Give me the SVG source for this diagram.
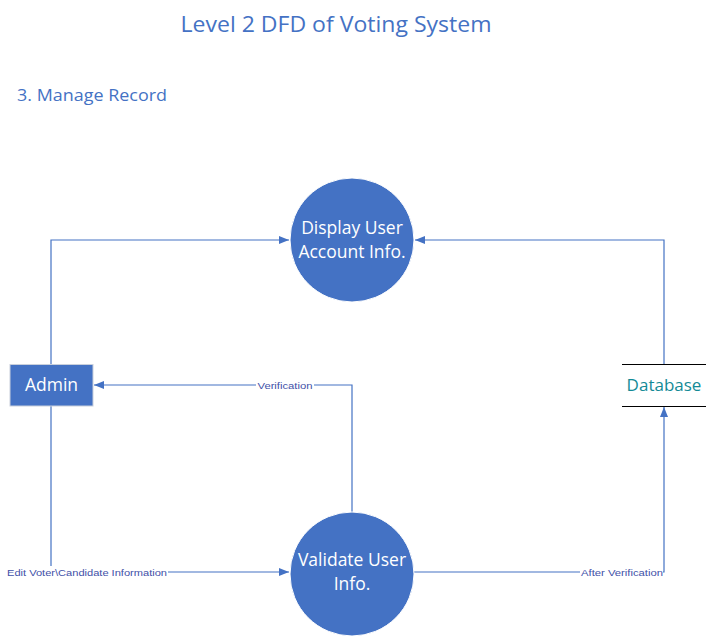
<svg xmlns="http://www.w3.org/2000/svg" width="714" height="636" viewBox="0 0 714 636">
<defs>
<marker id="arr" markerWidth="10" markerHeight="8" refX="10" refY="4" orient="auto" markerUnits="userSpaceOnUse">
<path d="M0,0 L10,4 L0,8 Z" fill="#4472C4"/>
</marker>
<style>
.ttl{font-family:"Open Sans","Liberation Sans",sans-serif;fill:#4472C4}
.proc{fill:#4472C4;stroke:#ffffff;stroke-width:1}
.ptxt{font-family:"Open Sans","Liberation Sans",sans-serif;font-size:17.5px;fill:#ffffff;text-anchor:middle}
.flow{fill:none;stroke:#4472C4;stroke-width:1.2}
.lbl{font-family:"Liberation Sans",sans-serif;font-size:9.5px;fill:#3f51a8}
.lblbg{fill:#ffffff}
</style>
</defs>
<rect width="714" height="636" fill="#ffffff"/>
<text class="ttl" x="336" y="32" font-size="21" text-anchor="middle" textLength="311" lengthAdjust="spacingAndGlyphs">Level 2 DFD of Voting System</text>
<text class="ttl" x="17" y="101" font-size="17" textLength="150" lengthAdjust="spacingAndGlyphs">3. Manage Record</text>

<g id="connectors">
<polyline class="flow" points="51,365 51,240 289,240" marker-end="url(#arr)"/>
<polyline class="flow" points="664,364 664,240 415,240" marker-end="url(#arr)"/>
<polyline class="flow" points="352,513 352,385 94,385" marker-end="url(#arr)"/>
<polyline class="flow" points="51,406 51,572 289,572" marker-end="url(#arr)"/>
<polyline class="flow" points="414,572 664,572 664,407" marker-end="url(#arr)"/>
<rect class="lblbg" x="256" y="379" width="58" height="12"/>
<text class="lbl" x="285" y="388.5" text-anchor="middle" textLength="55" lengthAdjust="spacingAndGlyphs">Verification</text>
<rect class="lblbg" x="6" y="566" width="162" height="12"/>
<text class="lbl" x="7" y="575.5" textLength="160" lengthAdjust="spacingAndGlyphs">Edit Voter\Candidate Information</text>
<rect class="lblbg" x="580" y="566" width="83" height="12"/>
<text class="lbl" x="581" y="575.5" textLength="82" lengthAdjust="spacingAndGlyphs">After Verification</text>
</g>

<g id="display">
<circle class="proc" cx="352" cy="240" r="62"/>
<text class="ptxt" x="352" y="234">Display User</text>
<text class="ptxt" x="352" y="258">Account Info.</text>
</g>

<g id="validate">
<circle class="proc" cx="352" cy="574" r="62"/>
<text class="ptxt" x="352" y="566">Validate User</text>
<text class="ptxt" x="352" y="590">Info.</text>
</g>

<g id="admin">
<rect x="10" y="364.5" width="83" height="41.5" fill="#4472C4" stroke="#c9d0dc" stroke-width="1"/>
<text class="ptxt" x="51.5" y="391">Admin</text>
</g>

<g id="database">
<line x1="622" y1="364.5" x2="706" y2="364.5" stroke="#000000" stroke-width="1"/>
<line x1="622" y1="406.5" x2="706" y2="406.5" stroke="#000000" stroke-width="1"/>
<text x="664" y="391" font-family="'Open Sans','Liberation Sans',sans-serif" font-size="17" fill="#138a96" text-anchor="middle">Database</text>
</g>
</svg>
